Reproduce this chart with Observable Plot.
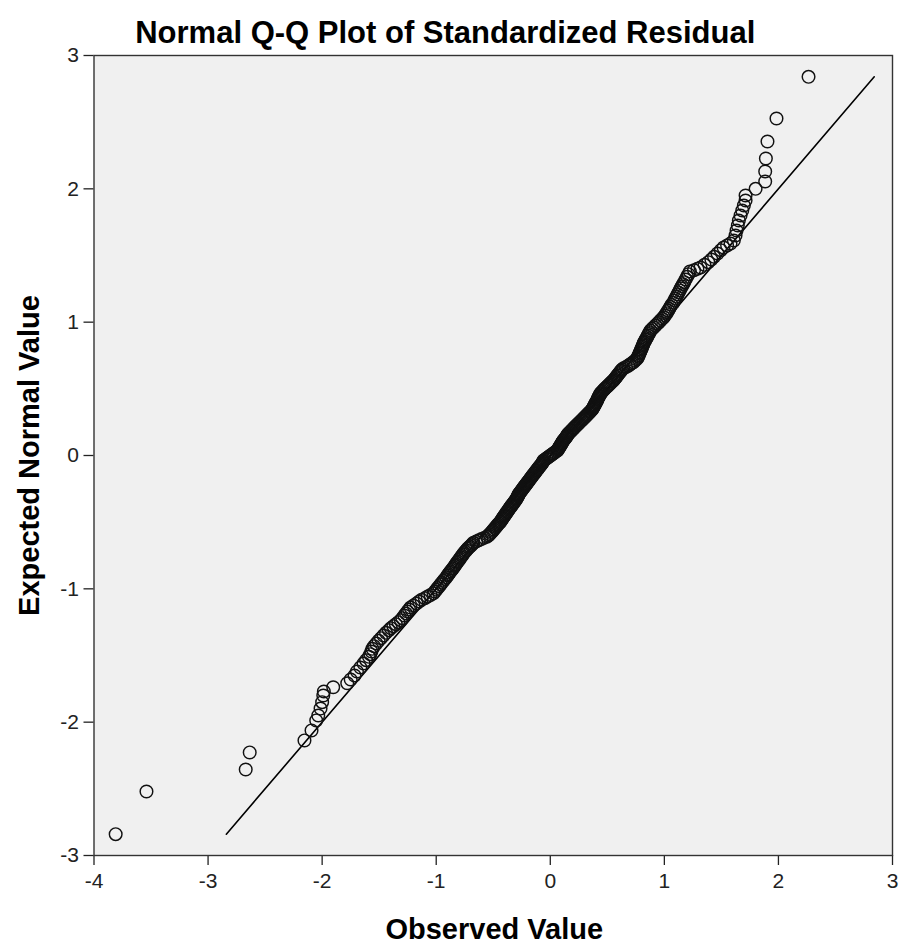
<!DOCTYPE html>
<html>
<head>
<meta charset="utf-8">
<script src="https://cdn.jsdelivr.net/npm/d3@7"></script>
<script src="https://cdn.jsdelivr.net/npm/@observablehq/plot@0.6"></script>
<style>
  html, body { margin: 0; padding: 0; background: #ffffff; }
  #chart svg { display: block; }
</style>
</head>
<body>
<div id="chart"></div>
<script>
const chartTitle = "Normal Q-Q Plot of Standardized Residual";
const xLabel = "Observed Value";
const yLabel = "Expected Normal Value";
const xTicks = [-4, -3, -2, -1, 0, 1, 2, 3];
const yTicks = [-3, -2, -1, 0, 1, 2, 3];

// reference line (expected = observed)
const lineX = [-2.84, 2.84];
const lineY = [-2.84, 2.84];

// lower tail (observed, expected)
const lowObserved = [-3.81, -3.54, -2.67, -2.635, -2.155, -2.093, -2.052, -2.034, -2.014, -2.0, -1.99, -1.985, -1.903, -1.78];
const lowExpected = [-2.84, -2.52, -2.355, -2.227, -2.137, -2.062, -1.987, -1.95, -1.898, -1.85, -1.80, -1.77, -1.738, -1.708];

// dense central band (observed, expected)
const midObserved = [
  -1.75, -1.716, -1.695, -1.665, -1.637, -1.615, -1.59,
  -1.578, -1.568, -1.56, -1.545, -1.525, -1.505, -1.484, -1.462, -1.44, -1.415,
  -1.398, -1.376, -1.354, -1.332, -1.31, -1.297, -1.279, -1.265, -1.252, -1.238, -1.225, -1.199, -1.173,
  -1.15, -1.128, -1.10, -1.075, -1.05, -1.024, -1.011, -0.999, -0.987, -0.974, -0.962, -0.95, -0.936, -0.924, -0.912, -0.90,
  -0.893, -0.883, -0.873, -0.864, -0.854, -0.845, -0.836, -0.828, -0.819, -0.810, -0.801, -0.792, -0.784, -0.775, -0.766, -0.758, -0.747, -0.736, -0.725,
  -0.715, -0.704, -0.693, -0.683, -0.673, -0.650, -0.627, -0.604, -0.58, -0.556, -0.542, -0.532, -0.522, -0.513, -0.504, -0.495, -0.486, -0.477, -0.468, -0.459, -0.45, -0.44,
  -0.434, -0.427, -0.42, -0.414, -0.407, -0.40, -0.394, -0.387, -0.38, -0.374, -0.367, -0.36, -0.353, -0.346, -0.339, -0.332, -0.324, -0.317, -0.31, -0.303, -0.297, -0.29, -0.285, -0.28,
  -0.278, -0.272, -0.265, -0.258, -0.252, -0.245, -0.238, -0.231, -0.225, -0.218, -0.211, -0.205, -0.198, -0.191, -0.185, -0.178, -0.171, -0.165, -0.158, -0.151, -0.144, -0.137, -0.13, -0.123, -0.116, -0.109,
  -0.102, -0.095, -0.088, -0.081, -0.074, -0.067, -0.063, -0.059, -0.047, -0.034, -0.022, -0.01, 0.002, 0.014, 0.026, 0.038, 0.051, 0.063, 0.069, 0.074, 0.08, 0.085, 0.09, 0.096, 0.101, 0.106,
  0.111, 0.117, 0.125, 0.133, 0.139, 0.145, 0.15, 0.156, 0.165, 0.174, 0.184, 0.192, 0.201, 0.21, 0.218, 0.227, 0.236, 0.245, 0.254, 0.263, 0.274, 0.282, 0.291, 0.3, 0.309, 0.317,
  0.326, 0.336, 0.345, 0.355, 0.364, 0.371, 0.377, 0.382, 0.387, 0.392, 0.397, 0.402, 0.407, 0.412, 0.417, 0.421, 0.426, 0.432, 0.437, 0.441, 0.45, 0.459, 0.468, 0.478,
  0.488, 0.499, 0.51, 0.521, 0.532, 0.543, 0.555, 0.563, 0.571, 0.58, 0.588, 0.596, 0.604, 0.612, 0.62, 0.629, 0.642, 0.664, 0.684, 0.698, 0.713, 0.728,
  0.742, 0.755, 0.765, 0.771, 0.776, 0.781, 0.786, 0.791, 0.797, 0.802, 0.807, 0.812, 0.816, 0.822, 0.829, 0.835, 0.842, 0.849, 0.855,
  0.863, 0.871, 0.879, 0.894, 0.908, 0.923, 0.937, 0.952, 0.966, 0.981, 0.995, 1.005, 1.015, 1.024, 1.034, 1.043,
  1.053, 1.063, 1.079, 1.088, 1.097, 1.107, 1.116, 1.125, 1.135, 1.144, 1.154, 1.164, 1.174,
  1.186, 1.199, 1.211, 1.224, 1.26, 1.29, 1.317, 1.352, 1.385, 1.412, 1.436,
  1.466, 1.495, 1.519, 1.55, 1.58
];
const midExpected = [
  -1.68, -1.65, -1.62, -1.59, -1.56, -1.535, -1.51,
  -1.49, -1.47, -1.45, -1.43, -1.41, -1.39, -1.37, -1.35, -1.33, -1.31,
  -1.295, -1.28, -1.265, -1.25, -1.235, -1.22, -1.20, -1.185, -1.17, -1.155, -1.14, -1.125, -1.11,
  -1.095, -1.082, -1.07, -1.058, -1.046, -1.034, -1.02, -1.007, -0.994, -0.98, -0.967, -0.954, -0.94, -0.927, -0.914, -0.90,
  -0.89, -0.879, -0.868, -0.858, -0.847, -0.837, -0.826, -0.816, -0.805, -0.795, -0.784, -0.774, -0.763, -0.753, -0.742, -0.732, -0.721, -0.711, -0.70,
  -0.691, -0.682, -0.673, -0.664, -0.655, -0.645, -0.636, -0.627, -0.618, -0.609, -0.60, -0.591, -0.582, -0.573, -0.564, -0.555, -0.545, -0.536, -0.527, -0.518, -0.509, -0.50,
  -0.492, -0.483, -0.475, -0.467, -0.458, -0.45, -0.442, -0.433, -0.425, -0.417, -0.408, -0.40, -0.392, -0.383, -0.375, -0.367, -0.358, -0.35, -0.342, -0.333, -0.325, -0.317, -0.308, -0.30,
  -0.292, -0.285, -0.277, -0.269, -0.262, -0.254, -0.246, -0.238, -0.231, -0.223, -0.215, -0.208, -0.20, -0.192, -0.185, -0.177, -0.169, -0.162, -0.154, -0.146, -0.138, -0.131, -0.123, -0.115, -0.108, -0.10,
  -0.092, -0.085, -0.077, -0.069, -0.062, -0.054, -0.046, -0.038, -0.031, -0.023, -0.015, -0.008, 0.0, 0.008, 0.015, 0.023, 0.031, 0.038, 0.046, 0.054, 0.062, 0.069, 0.077, 0.085, 0.092, 0.10,
  0.108, 0.115, 0.123, 0.131, 0.138, 0.146, 0.154, 0.162, 0.169, 0.177, 0.185, 0.192, 0.20, 0.208, 0.215, 0.223, 0.231, 0.238, 0.246, 0.254, 0.262, 0.269, 0.277, 0.285, 0.292, 0.30,
  0.308, 0.317, 0.325, 0.333, 0.342, 0.35, 0.358, 0.367, 0.375, 0.383, 0.392, 0.40, 0.408, 0.417, 0.425, 0.433, 0.442, 0.45, 0.458, 0.467, 0.475, 0.483, 0.492, 0.50,
  0.509, 0.518, 0.527, 0.536, 0.545, 0.555, 0.564, 0.573, 0.582, 0.591, 0.60, 0.609, 0.618, 0.627, 0.636, 0.645, 0.655, 0.664, 0.673, 0.682, 0.691, 0.70,
  0.71, 0.721, 0.731, 0.742, 0.752, 0.763, 0.773, 0.784, 0.794, 0.805, 0.815, 0.826, 0.836, 0.847, 0.857, 0.868, 0.878, 0.889, 0.90,
  0.912, 0.925, 0.937, 0.95, 0.962, 0.975, 0.987, 1.0, 1.012, 1.025, 1.037, 1.05, 1.062, 1.075, 1.087, 1.10,
  1.115, 1.131, 1.146, 1.162, 1.177, 1.192, 1.208, 1.223, 1.238, 1.254, 1.269, 1.285, 1.30,
  1.32, 1.34, 1.36, 1.38, 1.39, 1.40, 1.41, 1.43, 1.45, 1.47, 1.49,
  1.515, 1.54, 1.56, 1.575, 1.59
];

// upper tail (observed, expected)
const highObserved = [1.609, 1.624, 1.633, 1.644, 1.653, 1.668, 1.683, 1.697, 1.712, 1.712, 1.80, 1.884, 1.884, 1.89, 1.904, 1.983, 2.264];
const highExpected = [1.6125, 1.65, 1.6875, 1.725, 1.7625, 1.80, 1.8375, 1.875, 1.9125, 1.95, 2.0, 2.055, 2.13, 2.2275, 2.355, 2.5275, 2.84];

const observed = [...lowObserved, ...midObserved, ...highObserved];
const expected = [...lowExpected, ...midExpected, ...highExpected];

const points = observed.map((x, i) => ({x, y: expected[i]}));
const refLine = lineX.map((x, i) => ({x, y: lineY[i]}));

const fontFamily = "'Liberation Sans', Arial, Helvetica, sans-serif";

const chart = Plot.plot({
  width: 901,
  height: 947,
  marginLeft: 93.5,
  marginRight: 9,
  marginTop: 55,
  marginBottom: 92,
  style: {fontFamily, fontSize: "21px", background: "#ffffff", color: "#222"},
  x: {domain: [-4, 3]},
  y: {domain: [-3, 3]},
  marks: [
    Plot.frame({fill: "#f0f0f0", stroke: null}),
    Plot.axisX({ticks: xTicks, tickSize: 10, tickPadding: 8, tickFormat: d => String(d), fontSize: 21, label: null, stroke: "#222", strokeWidth: 1.3}),
    Plot.axisY({ticks: yTicks, tickSize: 10, tickPadding: 5, tickFormat: d => String(d), fontSize: 21, label: null, stroke: "#222", strokeWidth: 1.3}),
    Plot.frame({stroke: "#333", strokeWidth: 1.4}),
    Plot.line(refLine, {x: "x", y: "y", stroke: "#000", strokeWidth: 1.6}),
    Plot.dot(points, {x: "x", y: "y", r: 6.3, stroke: "#111", strokeWidth: 1.45, fill: "none"}),
    Plot.text([chartTitle], {frameAnchor: "top", textAnchor: "middle", lineAnchor: "bottom", dx: -48, dy: -13, fontSize: 31, fontWeight: "bold", fill: "#000", text: d => d}),
    Plot.text([xLabel], {frameAnchor: "bottom", textAnchor: "middle", lineAnchor: "bottom", dx: 1, dy: 83, fontSize: 29, fontWeight: "bold", fill: "#000", text: d => d}),
    Plot.text([yLabel], {frameAnchor: "left", textAnchor: "middle", lineAnchor: "bottom", rotate: -90, dx: -55.5, dy: 0, fontSize: 29, fontWeight: "bold", fill: "#000", text: d => d})
  ]
});

// axis tick labels in the reference size
d3.select(chart).selectAll("text")
  .filter(function() { return /^-?\d$/.test(this.textContent.trim()); })
  .attr("font-size", 21).style("font-size", "21px").attr("fill", "#222");

document.getElementById("chart").appendChild(chart);
</script>
</body>
</html>
